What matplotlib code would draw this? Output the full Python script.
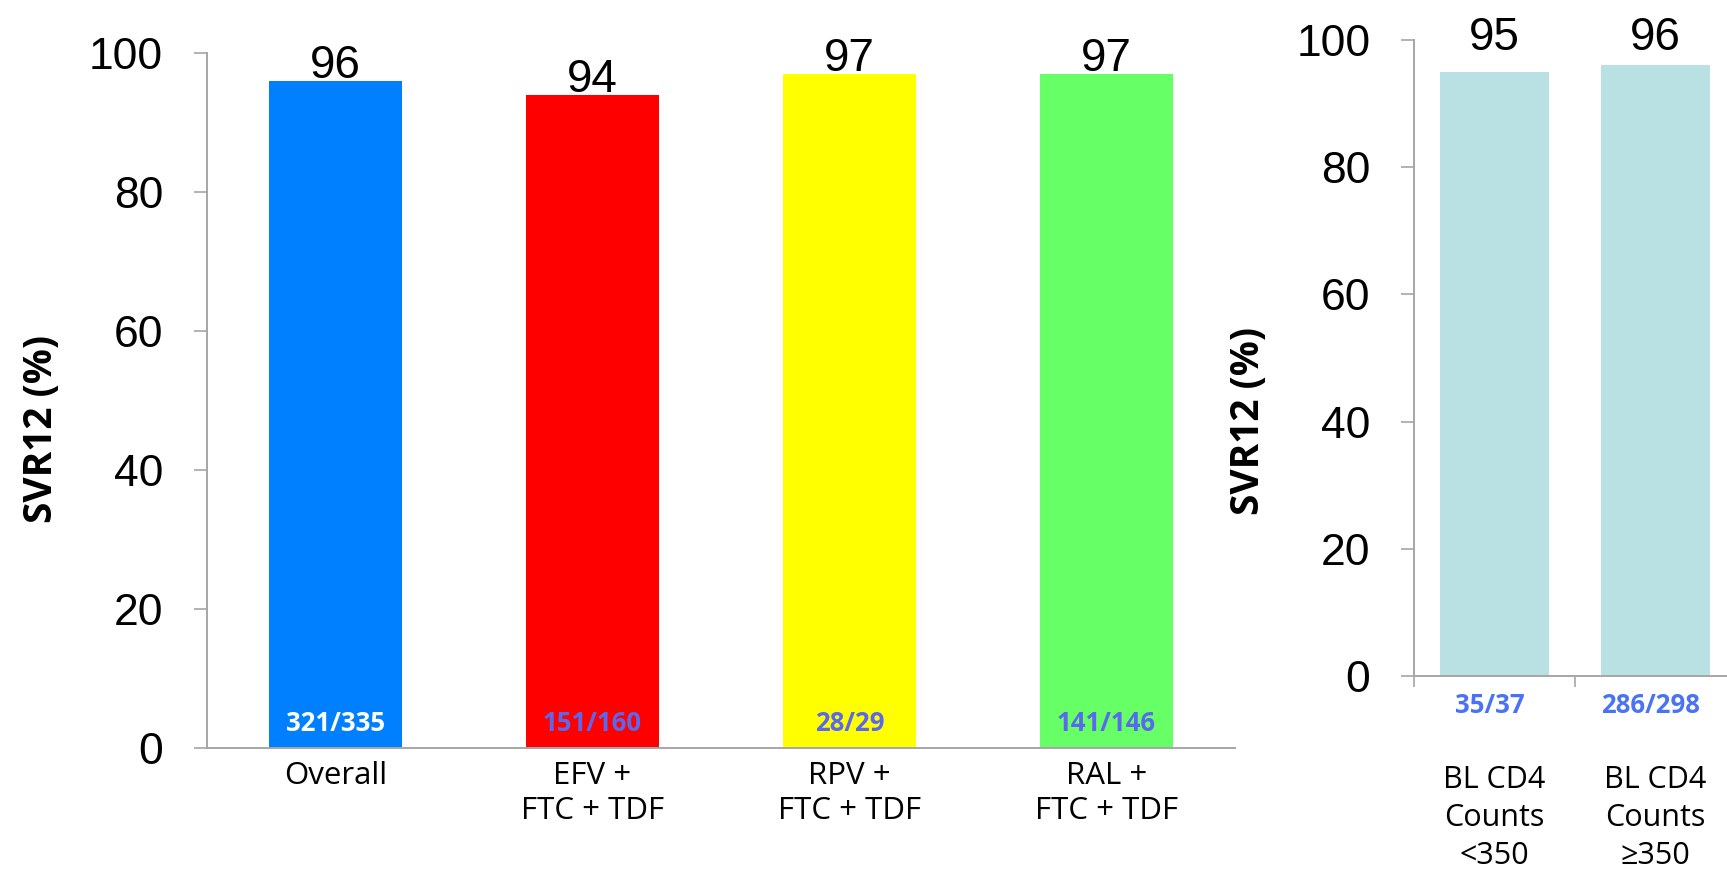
import matplotlib
matplotlib.use("Agg")
import matplotlib.pyplot as plt
from matplotlib.transforms import ScaledTranslation

# left panel: SVR12 by ART regimen
groups = ["Overall", "EFV +\nFTC + TDF", "RPV +\nFTC + TDF", "RAL +\nFTC + TDF"]
svr = [96, 94, 97, 97]
fractions = ["321/335", "151/160", "28/29", "141/146"]
bar_colors = ["#0080FF", "#FF0000", "#FFFF00", "#66FF66"]
frac_colors = ["white", "#5A68F0", "#5A68F0", "#5A68F0"]

# right panel: SVR12 by baseline CD4
cd4_groups = ["BL CD4\nCounts\n<350", "BL CD4\nCounts\n\u2265350"]
cd4_svr = [95, 96]
cd4_fractions = ["35/37", "286/298"]

yticks = [0, 20, 40, 60, 80, 100]

W, H = 1727, 869
axis_grey = "#A6A6A6"
num_font = "Liberation Sans"
lab_font = ["Open Sans", "DejaVu Sans"]

fig = plt.figure(figsize=(W / 100, H / 100), dpi=100)
ax1 = fig.add_axes([207 / W, 121 / H, 1028 / W, 695 / H])
ax2 = fig.add_axes([1414 / W, 193 / H, 322 / W, 636 / H])


def style(ax, n):
    for s in ["top", "right"]:
        ax.spines[s].set_visible(False)
    for s in ["left", "bottom"]:
        ax.spines[s].set_color(axis_grey)
        ax.spines[s].set_linewidth(1.4)
    ax.set_xlim(-0.5, n - 0.5)
    ax.set_ylim(0, 100)
    ax.set_yticks(yticks)
    ax.set_yticklabels([str(t) for t in yticks], fontfamily=num_font, fontsize=32)
    ax.tick_params(axis="y", direction="out", length=9.5, width=1.2,
                   color=axis_grey, pad=22)


# ---- left chart
x1 = range(len(groups))
ax1.bar(x1, svr, width=0.517, color=bar_colors)
style(ax1, len(groups))
ax1.set_xticks(list(x1))
ax1.set_xticklabels(groups, fontfamily=lab_font, fontsize=22.5, linespacing=1.22)
ax1.tick_params(axis="x", length=0, pad=9)
for i, v in enumerate(svr):
    ax1.text(i, v + 0.4, str(v), ha="center", va="baseline",
             fontfamily=num_font, fontsize=33)
    ax1.text(i, 2.5, fractions[i], ha="center", va="baseline",
             fontfamily=lab_font, fontsize=18.5, fontweight="bold",
             color=frac_colors[i])
fig.text(42 / W, 1 - 429 / H, "SVR12 (%)", rotation=90, ha="center", va="center",
         fontfamily=lab_font, fontsize=28, fontweight="bold")

# ---- right chart
x2 = range(len(cd4_groups))
ax2.bar(x2, cd4_svr, width=0.683, color="#B9E0E3")
style(ax2, len(cd4_groups))
ax2.set_xticks(list(x2))
ax2.set_xticklabels(cd4_groups, fontfamily=lab_font, fontsize=22, linespacing=1.34)
shift = ScaledTranslation(-12 / 100, 0, fig.dpi_scale_trans)
for lab in ax2.get_xticklabels():
    lab.set_transform(lab.get_transform() + shift)
ax2.set_xticks([-0.5, 0.5, 1.5], minor=True)
ax2.tick_params(axis="x", which="major", length=0, pad=64)
ax2.tick_params(axis="x", which="minor", direction="out", length=8,
                width=1.2, color=axis_grey)
for i, v in enumerate(cd4_svr):
    ax2.text(i, 98.4, str(v), ha="center", va="baseline",
             fontfamily=num_font, fontsize=33)
    ax2.annotate(cd4_fractions[i], xy=(i, 0), xytext=(-5, -37),
                 textcoords="offset pixels", ha="center", va="baseline",
                 fontfamily=lab_font, fontsize=18.5, fontweight="bold",
                 color="#4A72F5", annotation_clip=False)
fig.text(1248 / W, 1 - 421 / H, "SVR12 (%)", rotation=90, ha="center", va="center",
         fontfamily=lab_font, fontsize=28, fontweight="bold")

fig.savefig("out.png", dpi=100)
